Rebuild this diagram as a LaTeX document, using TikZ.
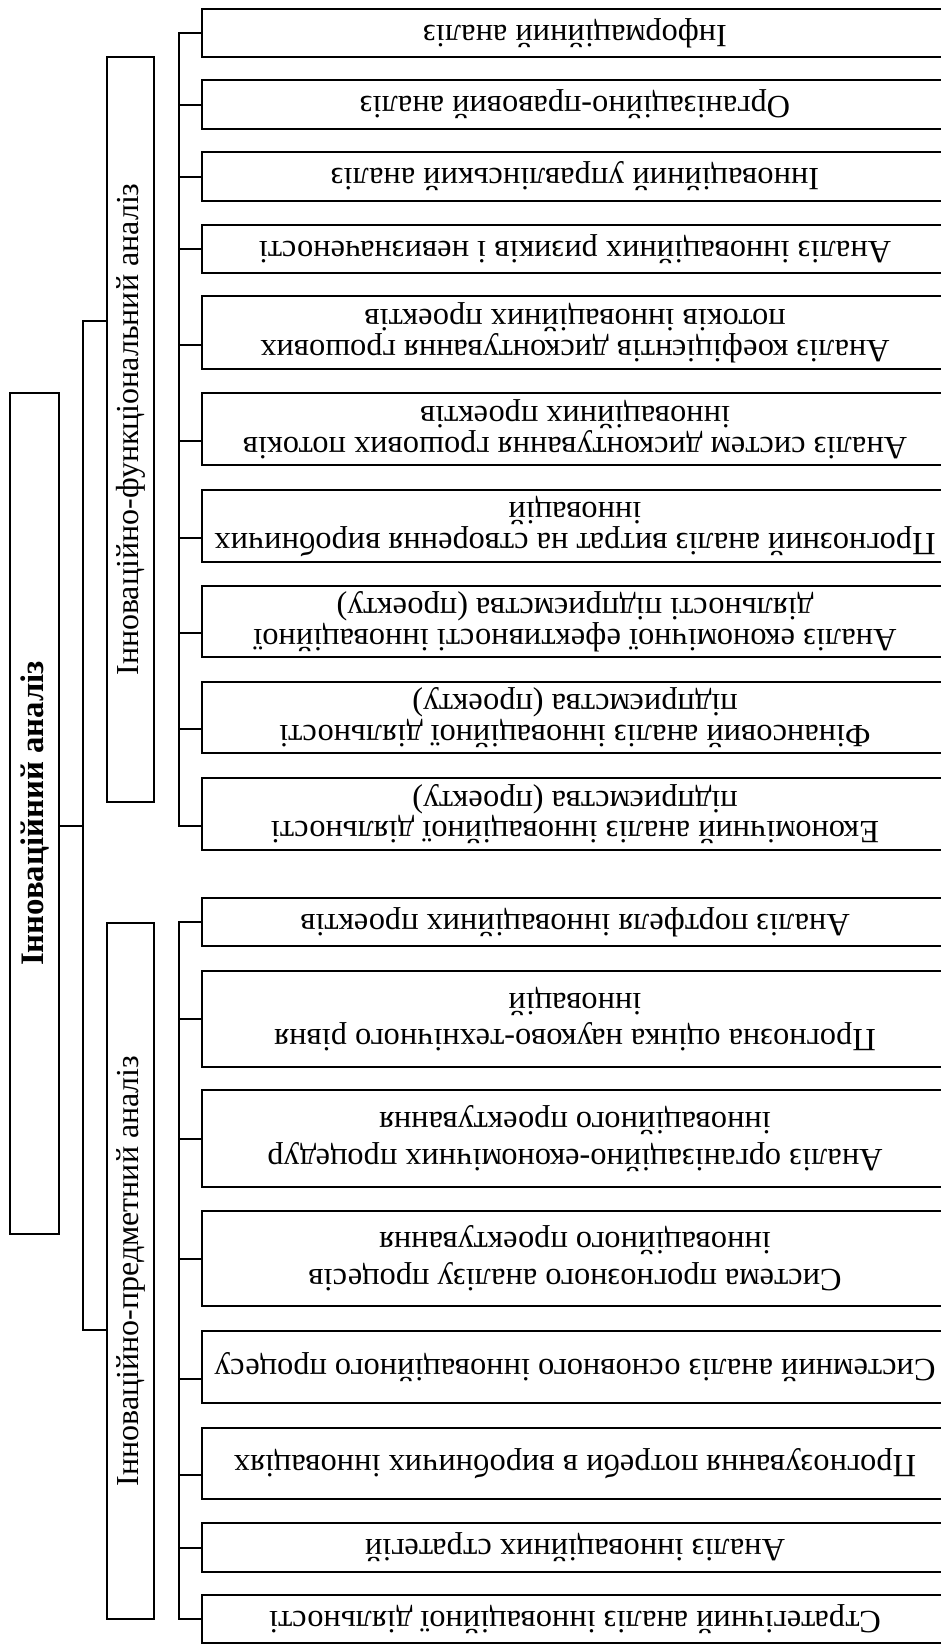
\documentclass[tikz,border=0pt]{standalone}
\usepackage{fontspec}
\setmainfont{Liberation Serif}

\begin{document}
\begin{tikzpicture}[x=0.5pt, y=-0.5pt, line width=1pt,
	box/.style={draw, inner sep=0pt, outer sep=0pt},
	leaf/.style={box, minimum width=373pt},
	txt/.style={rotate=180, align=center, inner sep=0pt, font=\fontsize{16.2pt}{12pt}\selectfont},
	txtb/.style={txt, font=\fontsize{16.2pt}{18.3pt}\selectfont},
	side/.style={rotate=90, inner sep=0pt, font=\fontsize{16pt}{18pt}\selectfont}]

	\useasboundingbox (0,0) rectangle (941,1644);

	% === NODES === (((
	\node[box, minimum width=24.5pt, minimum height=420.5pt] (main) at (34.5,813.5) {};
	\node[side, font=\fontsize{16.4pt}{18pt}\selectfont\bfseries] (tmain) at (main) {Інноваційний аналіз};

	\node[box, minimum width=23.5pt, minimum height=372.5pt] (fun) at (130.5,429.5) {};
	\node[side] (tfun) at (fun) {Інноваційно-функціональний аналіз};
	\node[box, minimum width=23.5pt, minimum height=348pt] (pred) at (130.5,1271) {};
	\node[side] (tpred) at (pred) {Інноваційно-предметний аналіз};

	\node[leaf, minimum height=24pt] (b1) at (575,33) {};
	\node[leaf, minimum height=24.5pt] (b2) at (575,104.5) {};
	\node[leaf, minimum height=24.5pt] (b3) at (575,176.5) {};
	\node[leaf, minimum height=24pt] (b4) at (575,249) {};
	\node[leaf, minimum height=36.5pt] (b5) at (575,332.5) {};
	\node[leaf, minimum height=36pt] (b6) at (575,429) {};
	\node[leaf, minimum height=36pt] (b7) at (575,526) {};
	\node[leaf, minimum height=35.5pt] (b8) at (575,621.5) {};
	\node[leaf, minimum height=35.5pt] (b9) at (575,717.5) {};
	\node[leaf, minimum height=36pt] (b10) at (575,814) {};

	\node[leaf, minimum height=24pt] (b11) at (575,922) {};
	\node[leaf, minimum height=48pt] (b12) at (575,1019) {};
	\node[leaf, minimum height=48.5pt] (b13) at (575,1138.5) {};
	\node[leaf, minimum height=47.5pt] (b14) at (575,1258.5) {};
	\node[leaf, minimum height=36pt] (b15) at (575,1367) {};
	\node[leaf, minimum height=35.5pt] (b16) at (575,1463.5) {};
	\node[leaf, minimum height=24.5pt] (b17) at (575,1547.5) {};
	\node[leaf, minimum height=24pt] (b18) at (575,1619) {};

	\node[txt] (t1) at (b1) {Інформаційний аналіз};
	\node[txt] (t2) at (b2) {Організаційно-правовий аналіз};
	\node[txt] (t3) at (b3) {Інноваційний управлінський аналіз};
	\node[txt] (t4) at (b4) {Аналіз інноваційних ризиків і невизначеності};
	\node[txt] (t5) at (b5) {Аналіз коефіцієнтів дисконтування грошових\\потоків інноваційних проектів};
	\node[txt] (t6) at (b6) {Аналіз систем дисконтування грошових потоків\\інноваційних проектів};
	\node[txt] (t7) at (b7) {Прогнозний аналіз витрат на створення виробничих\\інновацій};
	\node[txt] (t8) at (b8) {Аналіз економічної ефективності інноваційної\\діяльності підприємства (проекту)};
	\node[txt] (t9) at (b9) {Фінансовий аналіз інноваційної діяльності\\підприємства (проекту)};
	\node[txt] (t10) at (b10) {Економічний аналіз інноваційної діяльності\\підприємства (проекту)};

	\node[txt] (t11) at (b11) {Аналіз портфеля інноваційних проектів};
	\node[txtb] (t12) at (b12) {Прогнозна оцінка науково-технічного рівня\\інновацій};
	\node[txtb] (t13) at (b13) {Аналіз організаційно-економічних процедур\\інноваційного проектування};
	\node[txtb] (t14) at (b14) {Система прогнозного аналізу процесів\\інноваційного проектування};
	\node[txt] (t15) at (b15) {Системний аналіз основного інноваційного процесу};
	\node[txt] (t16) at (b16) {Прогнозування потреби в виробничих інноваціях};
	\node[txt] (t17) at (b17) {Аналіз інноваційних стратегій};
	\node[txt] (t18) at (b18) {Стратегічний аналіз інноваційної діяльності};
	% )))

	% === LINES === (((
	\draw ([yshift=-6.25pt]main.east) -- ++(24,0);
	\draw ([yshift=54.25pt]fun.west) -- ++(-24,0) |- ([yshift=-29.5pt]pred.west);

	\draw ([yshift=12pt]b1.south west) -- ++(-23,0) |- ([yshift=12pt]b10.south west);
	\foreach \n in {2,...,9}
		\draw ([yshift=12pt]b\n.south west) -- ++(-23,0);

	\draw ([yshift=12pt]b11.south west) -- ++(-23,0) |- ([yshift=12pt]b18.south west);
	\foreach \n in {12,13,14}
		\draw (b\n.west) -- ++(-23,0);
	\foreach \n in {15,16,17}
		\draw ([yshift=12pt]b\n.south west) -- ++(-23,0);
	% )))

\end{tikzpicture}
\end{document}
